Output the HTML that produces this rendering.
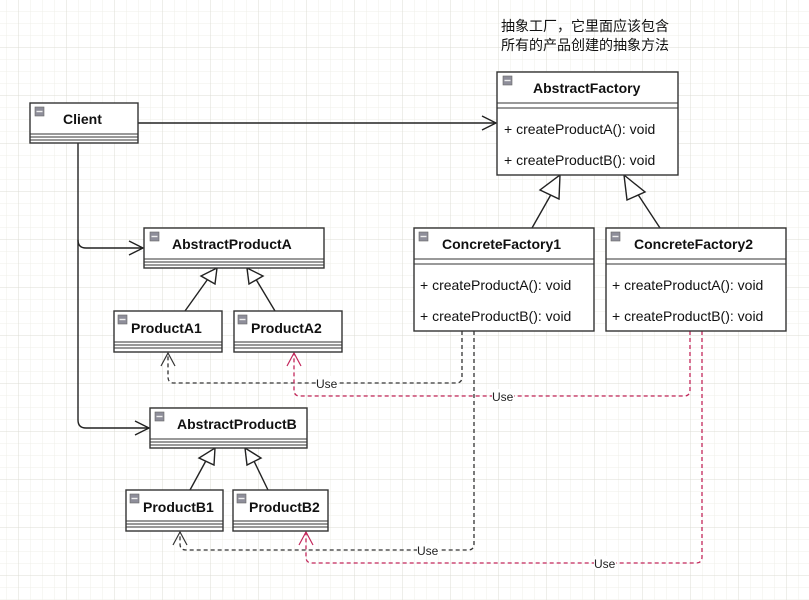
<!DOCTYPE html>
<html><head><meta charset="utf-8"><style>
html,body{margin:0;padding:0;background:#fff;}
svg{display:block;}
text{font-family:"Liberation Sans","Noto Sans CJK SC",sans-serif;}
</style></head><body>
<svg width="809" height="600" xmlns="http://www.w3.org/2000/svg">
<defs>
<pattern id="minor" x="6" y="11" width="12" height="12" patternUnits="userSpaceOnUse">
<path d="M0 0H12M0 0V12" stroke="#efefe8" stroke-width="1" fill="none"/>
</pattern>
<pattern id="major" x="18" y="47" width="48" height="48" patternUnits="userSpaceOnUse">
<path d="M0 0H48M0 0V48" stroke="#dcdcd4" stroke-width="1" fill="none"/>
</pattern>
<g id="ic"><rect width="9" height="9" fill="#8e8e9a" stroke="#666" stroke-width="0.6"/><rect x="1.5" y="3.8" width="6" height="1.4" fill="#eee"/></g>
</defs>
<rect width="809" height="600" fill="url(#minor)"/>
<rect width="809" height="600" fill="url(#major)"/>

<text x="501" y="31" font-size="14" fill="#111">抽象工厂，它里面应该包含</text>
<text x="501" y="50" font-size="14" fill="#111">所有的产品创建的抽象方法</text>

<g stroke="#222" stroke-width="1.4" fill="none">
<path d="M138 123H496"/><path d="M482 116L496 123L482 130"/>
<path d="M78 143V240Q78 248 86 248H143"/><path d="M129 241L143 248L129 255"/>
<path d="M78 240V420Q78 428 86 428H149"/><path d="M135 421L149 428L135 435"/>
<path d="M185 311L210 276"/><path d="M275 311L254 276"/>
<path d="M532 228L553 191"/><path d="M660 228L637 193"/>
<path d="M190 490L208 457"/><path d="M268 490L252 457"/>
</g>
<g stroke="#222" stroke-width="1.4" fill="#fff">
<polygon points="217,268 215,284 201,276"/>
<polygon points="247,268 249,284 263,276"/>
<polygon points="560,175 559,199 540,190"/>
<polygon points="624,175 645,192 627,200"/>
<polygon points="215,448 214,465 199,458"/>
<polygon points="245,448 247,465 261,458"/>
</g>

<g fill="none" stroke-width="1.3" stroke-dasharray="4 3">
<path d="M462 331V377Q462 383 456 383H174Q168 383 168 377V353" stroke="#333"/>
<path d="M474 331V544Q474 550 468 550H186Q180 550 180 544V532" stroke="#333"/>
<path d="M690 331V390Q690 396 684 396H300Q294 396 294 390V353" stroke="#c2265a"/>
<path d="M702 331V557Q702 563 696 563H312Q306 563 306 557V532" stroke="#c2265a"/>
</g>
<g fill="none" stroke-width="1.2">
<path d="M161 366L168 353L175 366" stroke="#333"/>
<path d="M173 545L180 532L187 545" stroke="#333"/>
<path d="M287 366L294 353L301 366" stroke="#c2265a"/>
<path d="M299 545L306 532L313 545" stroke="#c2265a"/>
</g>
<g font-size="12" fill="#222">
<rect x="316" y="376" width="22" height="13" fill="#fff"/><text x="316" y="388">Use</text>
<rect x="492" y="389" width="22" height="13" fill="#fff"/><text x="492" y="401">Use</text>
<rect x="417" y="543" width="22" height="13" fill="#fff"/><text x="417" y="555">Use</text>
<rect x="594" y="556" width="22" height="13" fill="#fff"/><text x="594" y="568">Use</text>
</g>

<g stroke="#333" stroke-width="1.4" fill="#fff">
<rect x="30" y="103" width="108" height="40"/>
<rect x="144" y="228" width="180" height="40"/>
<rect x="114" y="311" width="108" height="41"/>
<rect x="234" y="311" width="108" height="41"/>
<rect x="150" y="408" width="157" height="40"/>
<rect x="126" y="490" width="97" height="41"/>
<rect x="233" y="490" width="95" height="41"/>
<rect x="497" y="72" width="181" height="103"/>
<rect x="414" y="228" width="180" height="103"/>
<rect x="606" y="228" width="180" height="103"/>
</g>
<g stroke="#333" stroke-width="1.1" fill="none">
<path d="M30 134H138M30 137H138M30 140H138"/>
<path d="M144 259H324M144 262H324M144 265H324"/>
<path d="M114 342H222M114 345H222M114 348H222"/>
<path d="M234 342H342M234 345H342M234 348H342"/>
<path d="M150 439H307M150 442H307M150 445H307"/>
<path d="M126 521H223M126 524H223M126 527H223"/>
<path d="M233 521H328M233 524H328M233 527H328"/>
<path d="M497 103H678M497 108H678"/>
<path d="M414 259H594M414 264H594"/>
<path d="M606 259H786M606 264H786"/>
</g>
<use href="#ic" x="35" y="107"/>
<use href="#ic" x="150" y="232"/>
<use href="#ic" x="118" y="315"/>
<use href="#ic" x="238" y="315"/>
<use href="#ic" x="155" y="412"/>
<use href="#ic" x="130" y="494"/>
<use href="#ic" x="237" y="494"/>
<use href="#ic" x="503" y="76"/>
<use href="#ic" x="419" y="232"/>
<use href="#ic" x="611" y="232"/>

<g font-size="14" font-weight="bold" fill="#111">
<text x="63" y="124">Client</text>
<text x="172" y="249">AbstractProductA</text>
<text x="131" y="333">ProductA1</text>
<text x="251" y="333">ProductA2</text>
<text x="177" y="429">AbstractProductB</text>
<text x="143" y="512">ProductB1</text>
<text x="249" y="512">ProductB2</text>
<text x="533" y="93">AbstractFactory</text>
<text x="442" y="249">ConcreteFactory1</text>
<text x="634" y="249">ConcreteFactory2</text>
</g>
<g font-size="14" fill="#111">
<text x="504" y="134">+ createProductA(): void</text>
<text x="504" y="165">+ createProductB(): void</text>
<text x="420" y="290">+ createProductA(): void</text>
<text x="420" y="321">+ createProductB(): void</text>
<text x="612" y="290">+ createProductA(): void</text>
<text x="612" y="321">+ createProductB(): void</text>
</g>
</svg>
</body></html>
